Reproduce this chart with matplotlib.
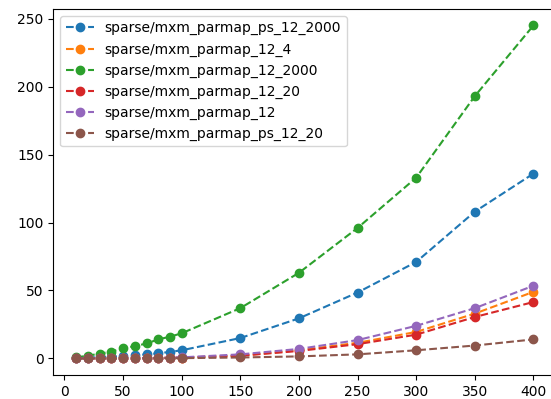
import matplotlib
matplotlib.use("Agg")
import matplotlib.pyplot as plt

x = [10, 20, 30, 40, 50, 60, 70, 80, 90, 100, 150, 200, 250, 300, 350, 400]

ps_12_2000 = [0.3, 0.6, 1.0, 1.3, 1.8, 2.3, 3.0, 3.8, 4.8, 6.0, 15, 29.5, 48.5, 71, 108, 136]
pm_12_4 = [0.05, 0.1, 0.1, 0.15, 0.2, 0.25, 0.3, 0.4, 0.5, 0.6, 2.0, 6.0, 11.5, 19.5, 33, 49]
pm_12_2000 = [0.8, 2.0, 3.5, 5.0, 7.5, 9.0, 11, 14, 16, 18.5, 37, 63, 96, 133, 193, 245]
pm_12_20 = [0.05, 0.1, 0.1, 0.15, 0.2, 0.25, 0.3, 0.4, 0.5, 0.6, 2.0, 5.5, 10.5, 17.5, 30.5, 41.5]
pm_12 = [0.05, 0.1, 0.15, 0.2, 0.25, 0.3, 0.4, 0.5, 0.6, 0.8, 3.0, 7.0, 13.5, 24, 37, 53.5]
ps_12_20 = [0.02, 0.03, 0.05, 0.05, 0.07, 0.1, 0.1, 0.15, 0.2, 0.2, 0.7, 1.5, 3.0, 6.0, 9.5, 14]

series = [
    ("sparse/mxm_parmap_ps_12_2000", ps_12_2000),
    ("sparse/mxm_parmap_12_4", pm_12_4),
    ("sparse/mxm_parmap_12_2000", pm_12_2000),
    ("sparse/mxm_parmap_12_20", pm_12_20),
    ("sparse/mxm_parmap_12", pm_12),
    ("sparse/mxm_parmap_ps_12_20", ps_12_20),
]

fig = plt.figure(figsize=(5.51, 3.99), dpi=100)
# right spine falls just outside the picture, as in the cropped original
ax = fig.add_axes([0.0967, 0.060, 0.913, 0.918])

for label, ys in series:
    ax.plot(x, ys, "o--", label=label)

ax.legend(loc="upper left")

fig.savefig("out.png", dpi=100)
